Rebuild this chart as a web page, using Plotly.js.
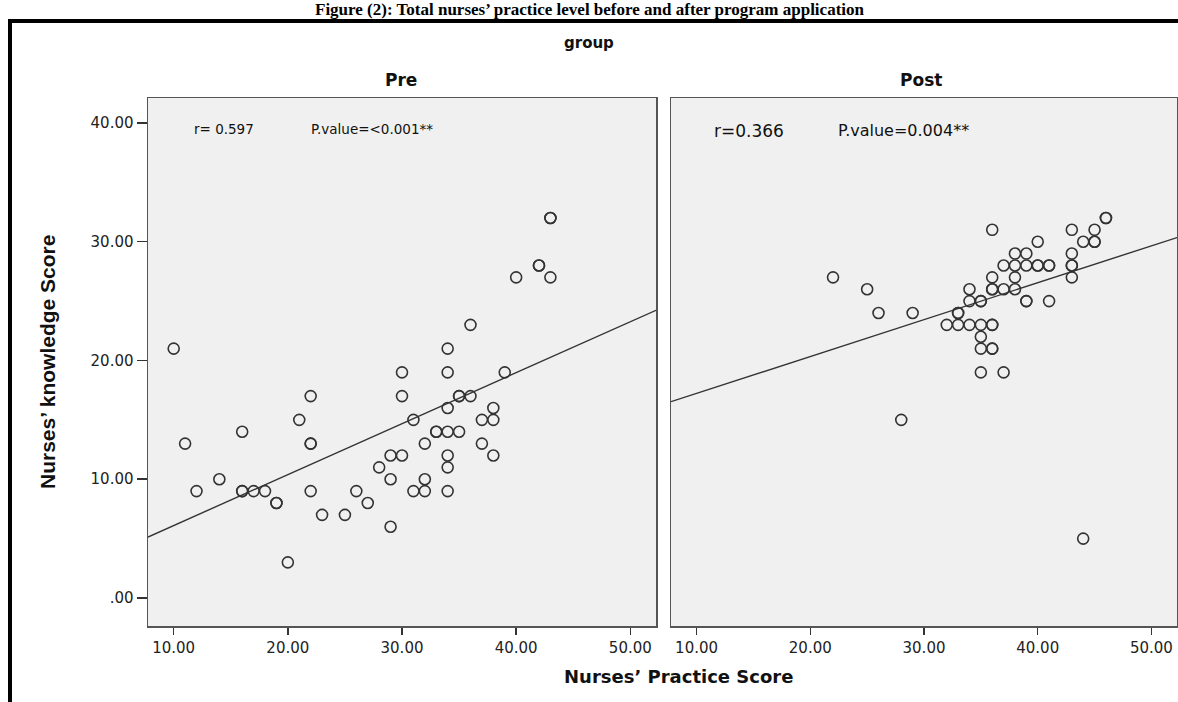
<!DOCTYPE html>
<html>
<head>
<meta charset="utf-8">
<script src="https://cdn.plot.ly/plotly-3.0.1.min.js"></script>
<style>html,body{margin:0;padding:0;background:#fff;}#chart{width:1178px;height:702px;}</style>
</head>
<body>
<div id="chart"></div>
<script>
// ---- Data ----
const prePractice  = [10,11,12,14,16,16,16,17,18,19,19,20,21,22,22,22,22,23,25,26,27,28,29,29,29,30,30,30,31,31,32,32,32,33,33,34,34,34,34,34,34,34,35,35,35,36,36,37,37,38,38,38,39,40,42,42,43,43,43];
const preKnowledge = [21,13, 9,10,14, 9, 9, 9, 9, 8, 8, 3,15,17,13,13, 9, 7, 7, 9, 8,11,12,10, 6,19,17,12,15, 9,13,10, 9,14,14,21,19,16,14,12,11, 9,17,17,14,23,17,15,13,16,15,12,19,27,28,28,32,32,27];

const postPractice  = [22,25,26,28,29,32,33,33,33,34,34,34,35,35,35,35,35,35,36,36,36,36,36,36,36,36,37,37,37,38,38,38,38,39,39,39,39,40,40,40,41,41,41,43,43,43,43,43,44,44,45,45,45,46,46];
const postKnowledge = [27,26,24,15,24,23,24,24,23,26,25,23,25,25,23,22,21,19,31,27,26,26,23,23,21,21,28,26,19,29,28,27,26,29,28,25,25,30,28,28,28,28,25,31,29,28,28,27,30, 5,31,30,30,32,32];

// fit lines [intercept, slope]
const preFit  = [1.81, 0.429];
const postFit = [14.12, 0.3106];

const xTickVals = [10,20,30,40,50];
const xTickText = ['10.00','20.00','30.00','40.00','50.00'];
const yTickVals = [0,10,20,30,40];
const yTickText = ['.00','10.00','20.00','30.00','40.00'];

const xRange = [7.75, 52.25];
const yRange = [-2.36, 42.1];

const W = 1178, H = 702;
const px = v => v / W;
const py = v => 1 - v / H;

const markerStyle = {symbol:'circle-open', size:11, color:'#333', line:{width:1.6, color:'#333'}};
const lineStyle = {color:'#333', width:1.4};

function fitY(f, xs){ return xs.map(x => f[0] + f[1]*x); }

const traces = [
  {x: prePractice, y: preKnowledge, type:'scatter', mode:'markers', marker: markerStyle, xaxis:'x', yaxis:'y', hoverinfo:'x+y'},
  {x: xRange, y: fitY(preFit, xRange), type:'scatter', mode:'lines', line: lineStyle, xaxis:'x', yaxis:'y', hoverinfo:'skip'},
  {x: postPractice, y: postKnowledge, type:'scatter', mode:'markers', marker: markerStyle, xaxis:'x2', yaxis:'y2', hoverinfo:'x+y'},
  {x: xRange, y: fitY(postFit, xRange), type:'scatter', mode:'lines', line: lineStyle, xaxis:'x2', yaxis:'y2', hoverinfo:'skip'}
];

const tickFont = {family:'DejaVu Sans, Arial, sans-serif', size:15, color:'#222'};

const baseX = {
  range: xRange, tickvals: xTickVals, ticktext: xTickText,
  ticks:'outside', ticklen:7, tickwidth:1.5, tickcolor:'#333',
  showline:true, mirror:true, linecolor:'#555', linewidth:1.5,
  showgrid:false, zeroline:false, tickfont: tickFont, fixedrange:true
};
const baseY = {
  range: yRange, tickvals: yTickVals, ticktext: yTickText,
  ticks:'outside', ticklen:10, tickwidth:1.5, tickcolor:'#333',
  showline:true, mirror:true, linecolor:'#555', linewidth:1.5,
  showgrid:false, zeroline:false, tickfont: tickFont, fixedrange:true
};

const layout = {
  width: W, height: H,
  margin:{l:0, r:0, t:0, b:0},
  paper_bgcolor:'#ffffff', plot_bgcolor:'#f0f0f0',
  showlegend:false,
  xaxis: Object.assign({}, baseX, {domain:[px(148), px(656)], anchor:'y'}),
  yaxis: Object.assign({}, baseY, {domain:[py(626), py(98)], anchor:'x'}),
  xaxis2: Object.assign({}, baseX, {domain:[px(671), px(1177)], anchor:'y2'}),
  yaxis2: Object.assign({}, baseY, {domain:[py(626), py(98)], anchor:'x2', showticklabels:false, ticks:''}),
  shapes: [
    {type:'rect', xref:'paper', yref:'paper', x0:px(10), x1:px(1200), y0:py(730), y1:py(21), line:{color:'#000', width:4}, fillcolor:'rgba(0,0,0,0)'}
  ],
  annotations: [
    {text:'<b>Figure (2): Total nurses’ practice level before and after program application</b>', xref:'paper', yref:'paper', x:px(590), y:py(10), xanchor:'center', yanchor:'middle', showarrow:false, font:{family:'Liberation Serif, Times New Roman, serif', size:17, color:'#000'}},
    {text:'<b>group</b>', xref:'paper', yref:'paper', x:px(589), y:py(43), xanchor:'center', yanchor:'middle', showarrow:false, font:{family:'DejaVu Sans, Arial, sans-serif', size:15, color:'#111'}},
    {text:'<b>Pre</b>', xref:'paper', yref:'paper', x:px(401), y:py(80), xanchor:'center', yanchor:'middle', showarrow:false, font:{family:'DejaVu Sans, Arial, sans-serif', size:17, color:'#111'}},
    {text:'<b>Post</b>', xref:'paper', yref:'paper', x:px(921), y:py(80), xanchor:'center', yanchor:'middle', showarrow:false, font:{family:'DejaVu Sans, Arial, sans-serif', size:17, color:'#111'}},
    {text:'<b>Nurses’ knowledge Score</b>', xref:'paper', yref:'paper', x:px(47), y:py(362), xanchor:'center', yanchor:'middle', textangle:-90, showarrow:false, font:{family:'Liberation Sans Narrow, Arial Narrow, Liberation Sans, sans-serif', size:21, color:'#111'}},
    {text:'<b>Nurses’ Practice Score</b>', xref:'paper', yref:'paper', x:px(678), y:py(676), xanchor:'center', yanchor:'middle', showarrow:false, font:{family:'DejaVu Sans, Arial, sans-serif', size:18, color:'#111'}},
    {text:'r= 0.597', xref:'paper', yref:'paper', x:px(192), y:py(129), xanchor:'left', yanchor:'middle', showarrow:false, font:{family:'DejaVu Sans, Arial, sans-serif', size:13.5, color:'#111'}},
    {text:'P.value=<0.001**', xref:'paper', yref:'paper', x:px(309), y:py(129), xanchor:'left', yanchor:'middle', showarrow:false, font:{family:'DejaVu Sans, Arial, sans-serif', size:13.5, color:'#111'}},
    {text:'r=0.366', xref:'paper', yref:'paper', x:px(712), y:py(131), xanchor:'left', yanchor:'middle', showarrow:false, font:{family:'DejaVu Sans, Arial, sans-serif', size:17, color:'#111'}},
    {text:'P.value=0.004**', xref:'paper', yref:'paper', x:px(836), y:py(131), xanchor:'left', yanchor:'middle', showarrow:false, font:{family:'DejaVu Sans, Arial, sans-serif', size:16, color:'#111'}}
  ]
};

Plotly.newPlot('chart', traces, layout, {displayModeBar:false, staticPlot:true});
</script>
</body>
</html>
